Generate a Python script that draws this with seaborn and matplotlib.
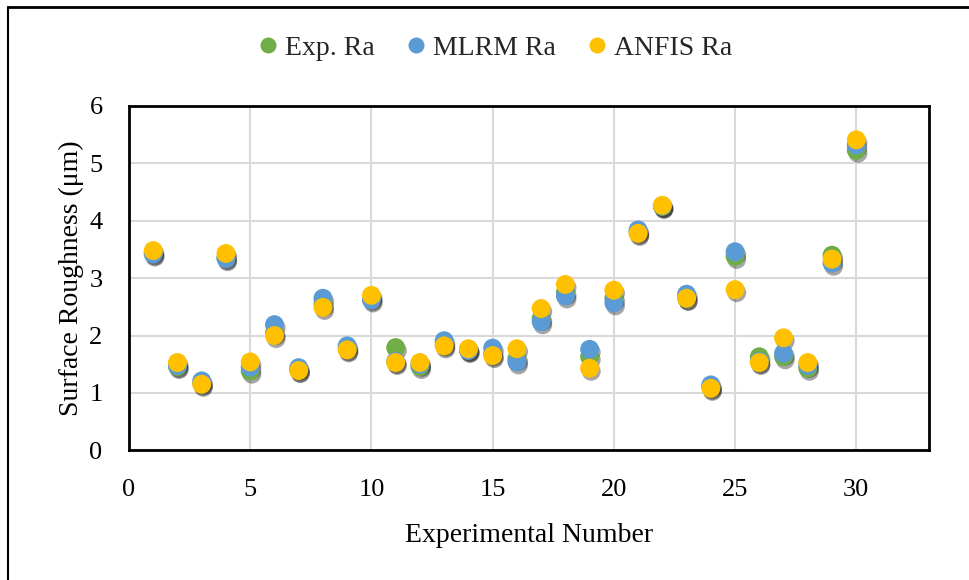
import matplotlib
matplotlib.use("Agg")
import matplotlib.pyplot as plt
import matplotlib.patheffects as pe
from matplotlib.lines import Line2D
import pandas as pd
import seaborn as sns

experiment = list(range(1, 31))
exp_ra = [3.44, 1.46, 1.17, 3.36, 1.38, 2.05, 1.40, 2.55, 1.77, 2.65,
          1.79, 1.46, 1.85, 1.75, 1.68, 1.60, 2.30, 2.75, 1.63, 2.65,
          3.80, 4.25, 2.65, 1.10, 3.38, 1.63, 1.63, 1.43, 3.40, 5.23]
mlrm_ra = [3.42, 1.48, 1.21, 3.34, 1.45, 2.19, 1.44, 2.65, 1.82, 2.62,
           1.55, 1.50, 1.91, 1.74, 1.78, 1.54, 2.24, 2.69, 1.76, 2.57,
           3.84, 4.26, 2.72, 1.14, 3.46, 1.55, 1.69, 1.48, 3.26, 5.32]
anfis_ra = [3.48, 1.53, 1.15, 3.43, 1.54, 2.00, 1.39, 2.49, 1.75, 2.70,
            1.53, 1.53, 1.82, 1.77, 1.65, 1.77, 2.47, 2.89, 1.43, 2.79,
            3.78, 4.27, 2.65, 1.08, 2.80, 1.53, 1.96, 1.53, 3.33, 5.41]
series_names = ["Exp. Ra", "MLRM Ra", "ANFIS Ra"]
series_colors = ["#70AD47", "#5B9BD5", "#FFC000"]
x_ticks = [0, 5, 10, 15, 20, 25, 30]
y_ticks = [0, 1, 2, 3, 4, 5, 6]

df = pd.DataFrame({
    "Experiment": experiment * 3,
    "Ra": exp_ra + mlrm_ra + anfis_ra,
    "Series": [series_names[0]] * 30 + [series_names[1]] * 30 + [series_names[2]] * 30,
})

sns.set_theme(style="white")
plt.rcParams["font.family"] = ["Liberation Serif", "DejaVu Serif"]

W, H = 970, 580
fig = plt.figure(figsize=(W / 100, H / 100), dpi=100)
ax = fig.add_axes([129 / W, 1 - 450.3 / H, 800 / W, 344.3 / H])

sns.scatterplot(
    data=df, x="Experiment", y="Ra", hue="Series",
    hue_order=series_names, palette=series_colors,
    s=185, edgecolor="none", linewidth=0, ax=ax, legend=False, zorder=3,
)
for coll in ax.collections:
    coll.set_path_effects([
        pe.SimplePatchShadow(offset=(1.2, -2.2), shadow_rgbFace="black", alpha=0.35),
        pe.Normal(),
    ])

ax.set_xlim(0, 33)
ax.set_ylim(0, 6)
ax.set_xticks(x_ticks)
ax.set_yticks(y_ticks)
ax.grid(True, color="#D9D9D9", linewidth=1.5, zorder=0)
ax.set_axisbelow(True)
for side in ["left", "right", "top", "bottom"]:
    ax.spines[side].set_visible(True)
    ax.spines[side].set_color("black")
    ax.spines[side].set_linewidth(2.0)
ax.tick_params(axis="both", which="both", length=0, labelsize=19, colors="black")
ax.tick_params(axis="x", pad=21)
ax.tick_params(axis="y", pad=19)
ax.set_xlabel("Experimental Number", fontsize=20, color="black", va="center")
ax.set_ylabel("Surface Roughness (\u03bcm)", fontsize=20, color="black", va="center")
ax.xaxis.set_label_coords(0.5, (450.3 - 536) / 344.3)
ax.yaxis.set_label_coords((71 - 129) / 800, 0.5)

handles = [
    Line2D([0], [0], marker="o", linestyle="none", markersize=11.5,
           markerfacecolor=c, markeredgecolor="none", label=n)
    for n, c in zip(series_names, series_colors)
]
fig.legend(handles=handles, loc="center", bbox_to_anchor=(496 / W, 1 - 48 / H),
           ncol=3, frameon=False, fontsize=20, handlelength=0.6,
           handletextpad=0.3, columnspacing=1.2, borderpad=0, borderaxespad=0)

# outer frame (top and left edges)
fig.add_artist(Line2D([8 / W, 1.0], [1 - 7 / H, 1 - 7 / H],
                      color="black", linewidth=2.0, transform=fig.transFigure))
fig.add_artist(Line2D([8 / W, 8 / W], [0.0, 1 - 7 / H],
                      color="black", linewidth=1.5, transform=fig.transFigure))

fig.savefig("out.png", dpi=100, facecolor="white")
